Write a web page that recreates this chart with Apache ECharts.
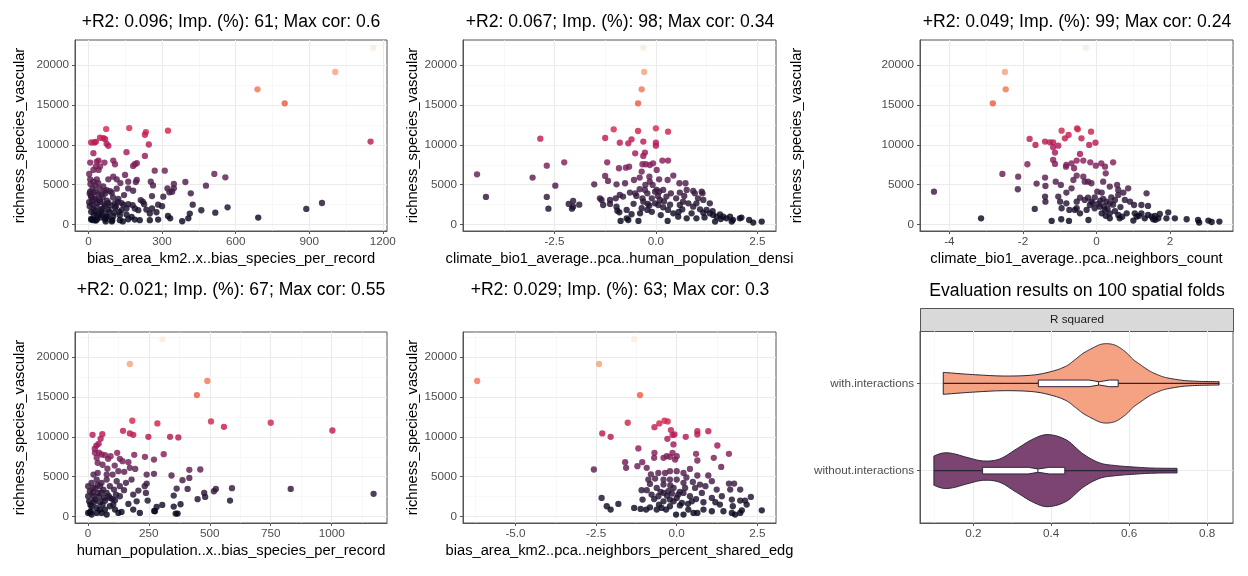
<!DOCTYPE html>
<html><head><meta charset="utf-8">
<script src="https://cdn.jsdelivr.net/npm/echarts@6/dist/echarts.min.js"></script>
<style>html,body{margin:0;padding:0;background:#fff}#c{width:1248px;height:576px}</style>
</head><body><div id="c"></div>
<script>
// ---------------- DATA ----------------
const titles = [
  '+R2: 0.096; Imp. (%): 61; Max cor: 0.6',
  '+R2: 0.067; Imp. (%): 98; Max cor: 0.34',
  '+R2: 0.049; Imp. (%): 99; Max cor: 0.24',
  '+R2: 0.021; Imp. (%): 67; Max cor: 0.55',
  '+R2: 0.029; Imp. (%): 63; Max cor: 0.3',
  'Evaluation results on 100 spatial folds'
];
const xNames = [
  'bias_area_km2..x..bias_species_per_record',
  'climate_bio1_average..pca..human_population_densi',
  'climate_bio1_average..pca..neighbors_count',
  'human_population..x..bias_species_per_record',
  'bias_area_km2..pca..neighbors_percent_shared_edg'
];
const yName = 'richness_species_vascular';
const yTicks = [0, 5000, 10000, 15000, 20000];
const yMinor = [2500, 7500, 12500, 17500, 22500];
const xTicks = [[0,300,600,900,1200],[-2.5,0,2.5],[-4,-2,0,2],[0,250,500,750,1000],[-5,-2.5,0,2.5]];
const xMinorTicks = [[150,450,750,1050],[-3.75,-1.25,1.25],[-3,-1,1,3],[125,375,625,875,1125],[-6.25,-3.75,-1.25,1.25]];

const panel1 = [[1161,22170],[1006,19120],[689,16950],[800,15200],[1150,10400],[952,2710],[888,1960],[692,880],[567,2170],[517,1500],[513,6350],[558,5930],[479,4880],[460,1800],[425,2500],[417,3920],[413,1380],[395,5340],[407,790],[382,420],[348,5090],[348,4550],[330,4050],[324,11770],[311,6760],[305,3500],[324,1090],[333,790],[284,2500],
[72,11970],[166,12100],[234,11590],[230,11260],[11,10290],[24,10290],[30,10370],[47,10880],[61,10840],[68,10710],[74,10120],[81,9870],[246,10040],[20,8950],[155,9070],[230,8610],
[7,7770],[34,7900],[41,8020],[65,7770],[101,8020],[108,7560],[189,7560],[197,7690],[182,7350],[270,6760],[3,6340],[20,6850],[30,7270],[47,7270],[41,6850],[149,6220],[101,6010],[81,5670],[115,5670],[7,5670],[34,5670],[20,5380],
[162,5380],[193,5330],[197,5590],[254,5380],[263,4910],[341,4120],[322,4540],[259,3570],[213,3070],[222,2860],[227,2560],[162,4540],[182,4240],[74,4330],[88,4200],[95,3990],[68,3910],[16,4540],[7,4120],[27,4120],[41,3820],[11,3490],[30,3150],[3,2810],[16,2520],[47,2860],[65,2560],[81,2730],[108,2650],[122,3230],[119,2860],[142,2480],[162,2560],[180,2440],[189,2020],[155,2020],[135,1810],[108,2140],[81,1890],[51,1810],[27,1720],[11,1600],[34,1180],[54,1180],[74,970],[101,1050],[128,1180],[155,1260],[176,970],[203,1810],[236,1890],[259,2020],[250,1390],[277,1550],[300,2310],[284,630],[250,550],[209,550],[189,630],[162,670],[128,550],[97,550],[68,670],[34,630],[11,710],[20,550],
[5,2300],[10,3600],[15,2900],[20,1900],[25,3300],[28,4900],[33,2200],[38,2700],[42,1400],[46,3100],[50,900],[55,2000],[58,3400],[62,1500],[67,2300],[70,400],[75,3000],[85,1600],[90,2400],[95,400],[18,4000],[22,1200],[12,600],[30,500],[40,5200],[45,4500],[52,3800],[8,5100],[5,3900],[60,4800],[65,4200],[78,1000],[105,1500],[112,2300],[125,1600],[135,2700],[140,400],[100,3400],[115,4500],[130,5200],[145,3700]];

const panel2 = [[-0.31,22170],[-0.29,19120],[-0.35,16950],[-0.44,15200],[-1.04,11940],[-1.25,10850],[-2.85,10770],[-0.44,11730],[0.0,12070],[0.30,11650],[-0.60,10690],[-0.68,10190],[-0.89,10270],[-0.31,10400],[0.0,10270],[0.0,9890],[-0.27,9020],[-0.31,8600],[-0.51,8930],[-1.2,7810],[-2.26,7810],[-2.69,7390],[-4.41,6300],[-3.04,5890],[-4.19,3470],[-2.48,4880],[-1.52,5050],[-2.69,3470],[-2.65,2000],[-2.15,2590],[-2.04,2960],[-1.89,2500],[-2.04,2250],[-2.07,2000],
[-1.25,6100],[-1.18,5470],[-0.97,5050],[-0.91,7060],[-0.74,7140],[-0.66,7260],[-0.76,5180],[-0.54,5590],[-0.40,5890],[-0.35,6640],[-0.33,7560],[-0.25,7560],[-0.15,7470],[-0.07,7680],[0.02,6850],[0.16,8020],[0.30,8020],[0.43,6140],[0.29,5590],[0.08,5680],[-0.16,6010],[-0.26,4970],[-0.08,4970],[0.18,4340],[0.58,5180],[0.73,5180],[0.96,3920],[1.13,4130],[1.15,3920],[0.92,4220],[0.76,4340],[0.59,4010],[0.37,3920],[0.26,3510],[0.10,3090],[0.02,4340],[-0.21,3920],[-0.33,3300],[-0.48,3590],[-0.64,4010],[-0.81,3510],[-0.89,3720],[-0.99,3300],[-1.13,3090],[-1.34,3090],[-1.38,3300],[-1.30,2460],[-1.13,2590],[-0.97,2250],[-0.95,1750],[-0.90,1540],[-0.72,1840],[-0.68,580],[-0.72,790],[-0.87,460],[-0.43,460],[-0.39,1420],[-0.35,2050],[-0.21,1840],[-0.16,2380],[-0.02,2670],[0.06,2460],[0.18,2170],[0.30,1840],[0.29,460],[0.43,1420],[0.56,1590],[0.59,2460],[0.67,2880],[0.80,2670],[0.92,2250],[1.0,2670],[1.09,1920],[1.17,1500],[1.25,1840],[1.33,1420],[1.41,1210],[1.50,1000],[1.58,1290],[1.66,1000],[1.74,790],[1.83,1000],[1.87,380],[2.07,790],[2.11,880],[2.30,580],[2.40,250],[2.61,380],[1.46,380],[1.0,790],[0.76,790],[0.88,1420],[0.55,1000],[-0.31,2880],[-0.27,4340],[-0.40,4430],[-0.51,3920],[-0.15,5380],[-0.02,4130],[0.08,4130],[1.17,3090],[1.33,2670],[1.04,3300],
[-0.2,2600],[-0.1,3300],[0.05,3600],[0.2,2900],[0.35,2500],[0.5,3300],[0.65,1900],[0.7,3600],[-0.55,2600],[-0.6,1300],[-0.1,1600],[0.12,1200],[1.2,900],[1.4,1700],[1.6,700],[1.9,600]];

const panel3 = [[-0.29,22170],[-2.49,19120],[-2.47,16950],[-2.82,15200],[-4.42,4130],[-3.14,790],[-1.68,1960],[-1.22,460],[-0.96,670],[-0.75,460],[-0.22,580],
[-1.82,10730],[-1.66,9980],[-1.40,10400],[-1.27,10310],[-1.18,10310],[-1.04,9890],[-0.95,11770],[-0.86,10810],[-0.76,11230],[-0.53,12070],[-0.51,11940],[-0.41,10810],[-0.15,11650],[-0.20,9980],[-0.03,10270],[-1.18,9690],[-1.13,9020],[-0.45,8850],[-0.36,8020],[-0.54,8020],[-0.17,7810],[0.13,7680],[0.45,7810],[0.23,7260],[-0.02,7390],[-1.88,7560],[-2.56,6350],[-2.13,6010],[-2.14,4430],[-1.63,5140],[-1.40,5890],[-1.39,4840],[-1.40,3510],[-1.39,2880],[-1.18,8100],[-1.13,7600],[-0.82,7470],[-0.68,7680],[-0.61,7060],[-0.83,7260],[-0.54,6140],[-0.36,6010],[-0.32,5380],[-0.23,5380],[-0.14,5180],[0.18,5380],[0.25,6430],[0.36,4760],[0.56,4970],[0.59,4340],[0.86,4550],[1.36,3920],[-0.63,5590],[-0.68,4550],[-0.82,4010],[-0.97,4970],[-1.11,5380],[-1.04,3510],[-0.99,2880],[-0.82,2670],[-0.95,2050],[-0.74,1840],[-0.54,2050],[-0.54,2880],[-0.45,3380],[-0.32,3090],[-0.23,3380],[-0.14,2880],[-0.05,3420],[0.02,4130],[0.14,4010],[0.18,3210],[0.27,2880],[0.36,2670],[0.50,3090],[0.59,3720],[0.73,4010],[0.77,3090],[0.91,2880],[1.02,2460],[1.22,2460],[1.40,2340],[0.09,2250],[0.23,1840],[0.36,1420],[0.59,1210],[0.82,1420],[1.04,1420],[1.22,1420],[1.40,1210],[1.59,1090],[1.68,790],[1.72,1340],[1.95,1540],[1.90,790],[2.13,790],[2.45,670],[2.76,580],[2.79,250],[3.04,500],[3.13,330],[3.34,380],[1.54,670],[1.31,790],[1.09,1000],[1.00,500],[0.63,790],[0.36,790],[0.14,1420],[-0.05,2050],[-0.18,2460],[-0.27,1840],[-0.45,1420],[-0.59,1840],
[0.05,2600],[0.2,2300],[0.3,2000],[0.45,2500],[0.5,1700],[0.65,2200],[0.4,3400],[0.1,3000],[-0.1,2700],[0.25,1100],[0.7,1000],[1.15,1100],[1.5,1000],[1.6,600]];

const panel4 = [[1172,2850],[832,3470],[1003,10790],[750,11760],[558,11250],[505,11920],[490,16990],[447,15230],[172,19120],[306,22220],
[144,10750],[172,10420],[186,10250],[182,12010],[285,11670],[371,9920],[337,10000],[248,10000],[19,10250],[59,10330],[52,9750],[44,9120],[29,7990],[36,7360],[40,6740],[56,7780],[70,7700],[83,7240],[93,7570],[120,7990],[131,7240],[142,6950],[166,6820],[190,7740],[234,7490],[271,7150],[311,7820],[172,6110],[194,5980],[149,5610],[125,5690],[101,5270],[77,5270],[40,5480],[23,5270],[271,5360],[343,5150],[416,5860],[461,5900],[388,4560],[416,4850],[364,3510],[352,2640],[409,3470],[477,2970],[481,2470],[517,3180],[525,3470],[591,3560],[583,2010],[450,2180],[380,1550],[352,1260],[305,1460],[282,1210],[272,710],[360,380],[368,380],[245,2010],[238,2970],[241,4140],[233,3810],[207,3260],[186,2760],[179,4640],[156,4230],[148,3310],[131,2550],[111,2050],[107,3390],[77,2970],[66,2340],[49,1800],[49,880],[36,460],[15,250],[8,540],[15,1300],[5,1920],[22,2550],[8,3180],[1,3810],[15,4230],[36,4640],[56,4230],[22,3600],[42,2970],[63,3390],[90,3810],[90,2340],[104,1510],[111,880],[125,460],[138,590],[166,1590],[200,1920],[186,880],[213,460],[275,670],[36,1090],[56,460],[77,250],[1,460],[1,2550],[29,2130],[49,3810],[77,4640],[118,4430],[131,3810],[115,2760],[90,1300],[70,880],[241,5270],
[10,1500],[20,3000],[30,3500],[45,2500],[60,1500],[12,700],[25,1800],[40,4000],[55,3000],[70,2000],[85,2600],[100,2200],[28,8500],[35,8900],[45,8000],[60,6500],[80,6000],[110,6400]];

const panel5 = [[-1.32,22220],[-2.41,19120],[-6.19,16990],[-1.14,15230],[-2.57,5900],
[-1.52,11760],[-2.31,10420],[-2.05,10000],[-0.69,11210],[-0.54,11670],[-0.38,12010],[-0.28,11920],[-0.18,10840],[-0.07,10290],[-0.13,10210],[0.28,10000],[0.64,10710],[0.64,10290],[0.98,10710],[-0.29,9750],[-0.10,9040],[1.26,8910],[-1.19,8540],[-0.69,7990],[-0.13,7990],[0.0,7570],[-0.41,7360],[-0.31,7570],[-0.21,7490],[-0.70,7360],[-0.05,7150],[0.60,7870],[1.62,7870],[1.15,7360],[0.64,7030],[-1.60,6820],[-1.57,6110],[-1.22,6320],[-0.93,6110],[-1.07,6820],[0.41,5980],[1.38,6230],[-0.36,5480],[-0.57,5480],[-0.21,5690],[0.0,5690],[0.21,5480],[0.98,5150],[0.64,5150],[-0.88,4640],[-0.83,4100],[-0.67,4770],[-0.41,4640],[-0.21,4640],[0.0,4640],[0.21,4230],[0.50,4350],[0.72,4020],[0.89,3810],[1.09,4440],[1.62,4140],[1.78,4140],[1.66,3390],[1.97,3390],[1.24,3390],[-1.09,3310],[-0.93,3310],[-0.78,2760],[-1.06,2130],[-0.57,2550],[-0.41,2970],[-0.26,3180],[-0.10,3600],[0.05,2760],[0.21,2970],[0.41,2550],[0.57,3600],[0.78,2970],[1.09,2340],[1.40,2550],[1.71,2130],[2.12,2010],[2.30,2470],[1.97,2010],[0.83,1800],[-2.33,2340],[-2.17,1300],[-2.05,880],[-1.81,1590],[-1.32,1090],[-1.12,960],[-0.95,880],[-0.83,1170],[-0.62,880],[-0.47,1090],[-0.33,880],[-0.21,1300],[-0.02,250],[0.21,250],[0.36,880],[0.52,460],[0.64,460],[0.83,880],[1.09,670],[1.45,670],[1.71,460],[1.81,250],[1.97,460],[2.02,790],[2.17,1510],[2.64,790],[1.74,1300],[1.34,1510],[-0.41,1920],[-0.21,2130],[0.0,2340],[0.16,1720],[-0.10,1920],[-0.41,4020],[-0.62,3600],[0.26,3600],[0.47,1920],
[-0.3,2600],[-0.15,2900],[0.1,3100],[-0.5,3100],[-0.7,2200],[-0.2,3900],[0.1,1400],[0.35,1600],[-0.55,1500],[0.6,2200],[1.2,1800],[-0.8,5300],[0.3,4900]];

const violinNames = ['without.interactions', 'with.interactions'];
// density profiles (x = R squared value, d = relative density)
const violinWithoutX = [0.099,0.123,0.149,0.183,0.226,0.268,0.311,0.354,0.392,0.439,0.482,0.525,0.567,0.61,0.653,0.696,0.723];
const violinWithoutD = [44,53,51,40,29,35,65,95,108,92,50,23,15,11,8,7,7];
const violinWithX = [0.123,0.19,0.277,0.354,0.405,0.439,0.46,0.482,0.505,0.525,0.542,0.56,0.576,0.595,0.61,0.63,0.653,0.675,0.696,0.738,0.781,0.831];
const violinWithD = [33,27,22,25,37,52,70,90,105,116,119,116,107,90,72,55,37,25,17,9,6,5];
// box stats: [min, q1, notchLow, median, notchHigh, q3, max]
const boxWithout = [0.099,0.224,0.341,0.367,0.395,0.435,0.723];
const boxWith = [0.123,0.367,0.497,0.523,0.55,0.572,0.831];
const violinTicks = [0.2,0.4,0.6,0.8];
const violinMinor = [0.1,0.3,0.5,0.7];

// ---------------- STYLE ----------------
const FONT = '"Liberation Sans", Arial, Helvetica, sans-serif';
const rocket = ['#03051A','#221331','#451C47','#701F57','#A11A5B','#CB1B4F','#E83F3F','#F06043','#F4875E','#F6B48E','#FAEBDD'];
const grids = [
  {left:75, top:40, width:312, height:191},
  {left:463, top:40, width:313, height:191},
  {left:920, top:40, width:313, height:191},
  {left:75, top:332, width:312, height:191},
  {left:463, top:332, width:313, height:191},
  {left:920, top:331, width:313, height:192}
];
const xRanges = [[-55,1217],[-4.756,2.962],[-4.80,3.71],[-53,1227],[-6.63,3.08]];
const yRange = [-800, 23130];
const yNameGaps = [48, 41, 116, 48, 41];
const xFmt = [v=>String(v), v=>v.toFixed(1), v=>String(v), v=>String(v), v=>v.toFixed(1)];
const panels = [panel1, panel2, panel3, panel4, panel5];
const AXIS_COLOR = '#555';

const tickLabel = {fontSize:11.7, color:'#4d4d4d', fontFamily:FONT};
const axisTitle = {fontSize:14.7, color:'#000', fontFamily:FONT};

function gridLines(xs, xsMinor, ys, ysMinor) {
  const d = [];
  xsMinor.forEach(v=>d.push({xAxis:v, lineStyle:{color:'#f3f3f3', width:0.6, type:'solid'}}));
  ysMinor.forEach(v=>d.push({yAxis:v, lineStyle:{color:'#f3f3f3', width:0.6, type:'solid'}}));
  xs.forEach(v=>d.push({xAxis:v, lineStyle:{color:'#ebebeb', width:1.1, type:'solid'}}));
  ys.forEach(v=>d.push({yAxis:v, lineStyle:{color:'#ebebeb', width:1.1, type:'solid'}}));
  return d;
}

const xAxes = [], yAxes = [], series = [], graphics = [];
for (let i = 0; i < 5; i++) {
  xAxes.push({
    gridIndex:i, type:'value', min:xRanges[i][0], max:xRanges[i][1],
    name:xNames[i], nameLocation:'middle', nameGap:20, nameTextStyle:axisTitle,
    axisLine:{show:true, onZero:false, lineStyle:{color:AXIS_COLOR, width:1}},
    axisTick:{show:true, customValues:xTicks[i], length:3, lineStyle:{color:AXIS_COLOR}},
    axisLabel:{customValues:xTicks[i], formatter:xFmt[i], margin:5, ...tickLabel},
    splitLine:{show:false}
  });
  yAxes.push({
    gridIndex:i, type:'value', min:yRange[0], max:yRange[1],
    name:yName, nameLocation:'middle', nameRotate:90, nameGap:yNameGaps[i], nameTextStyle:axisTitle,
    axisLine:{show:true, onZero:false, lineStyle:{color:AXIS_COLOR, width:1}},
    axisTick:{show:true, customValues:yTicks, length:3, lineStyle:{color:AXIS_COLOR}},
    axisLabel:{customValues:yTicks, formatter:v=>String(v), margin:6, ...tickLabel},
    splitLine:{show:false}
  });
  series.push({
    type:'line', xAxisIndex:i, yAxisIndex:i, data:[], silent:true, z:0,
    markLine:{silent:true, symbol:'none', z:0, animation:false, label:{show:false}, emphasis:{disabled:true},
      data:gridLines(xTicks[i], xMinorTicks[i], yTicks, yMinor)}
  });
  series.push({
    type:'scatter', xAxisIndex:i, yAxisIndex:i, data:panels[i], symbolSize:6.3, z:3,
    itemStyle:{opacity:0.82}, emphasis:{disabled:true}, animation:false
  });
}

// violin panel
xAxes.push({
  gridIndex:5, type:'value', min:0.0633, max:0.8667,
  axisLine:{show:true, onZero:false, lineStyle:{color:AXIS_COLOR, width:1}},
  axisTick:{show:true, customValues:violinTicks, length:3, lineStyle:{color:AXIS_COLOR}},
  axisLabel:{customValues:violinTicks, formatter:v=>v.toFixed(1), margin:5, ...tickLabel},
  splitLine:{show:false}
});
yAxes.push({
  gridIndex:5, type:'value', min:0.4, max:2.6,
  axisLine:{show:true, onZero:false, lineStyle:{color:AXIS_COLOR, width:1}},
  axisTick:{show:true, customValues:[1,2], length:3, lineStyle:{color:AXIS_COLOR}},
  axisLabel:{customValues:[1,2], formatter:v=>violinNames[Math.round(v)-1], margin:6, ...tickLabel},
  splitLine:{show:false}
});
series.push({
  type:'line', xAxisIndex:5, yAxisIndex:5, data:[], silent:true, z:0,
  markLine:{silent:true, symbol:'none', z:0, animation:false, label:{show:false}, emphasis:{disabled:true},
    data:gridLines(violinTicks, violinMinor, [1,2], [])}
});

const violins = [
  {x:violinWithoutX, d:violinWithoutD, pos:1, fill:'#7b4471', box:boxWithout},
  {x:violinWithX, d:violinWithD, pos:2, fill:'#f5a283', box:boxWith}
];
const maxD = Math.max(...violinWithD, ...violinWithoutD);
const VIOLIN_HALF = 0.455, BOX_HALF = 0.038;

// Catmull-Rom curve through pixel points (rendering only: a smooth outline through the read profile)
function catmull(pts, steps) {
  const out = [];
  const n = pts.length;
  for (let i = 0; i < n - 1; i++) {
    const p0 = pts[Math.max(0, i-1)], p1 = pts[i], p2 = pts[i+1], p3 = pts[Math.min(n-1, i+2)];
    for (let s = 0; s < steps; s++) {
      const t = s / steps, t2 = t*t, t3 = t2*t;
      const f = (a,b,c,d)=>0.5*((2*b) + (-a+c)*t + (2*a-5*b+4*c-d)*t2 + (-a+3*b-3*c+d)*t3);
      out.push([f(p0[0],p1[0],p2[0],p3[0]), f(p0[1],p1[1],p2[1],p3[1])]);
    }
  }
  out.push(pts[n-1]);
  return out;
}

series.push({
  type:'custom', xAxisIndex:5, yAxisIndex:5, z:2, silent:true, animation:false,
  data:[[0],[1]],
  renderItem:function(params, api){
    const v = violins[params.dataIndex];
    const up = [], lo = [];
    for (let k = 0; k < v.x.length; k++) {
      const hw = v.d[k] / maxD * VIOLIN_HALF;
      up.push(api.coord([v.x[k], v.pos + hw]));
      lo.push(api.coord([v.x[k], v.pos - hw]));
    }
    const upS = catmull(up, 10), loS = catmull(lo, 10).reverse();
    return {type:'polygon', shape:{points:upS.concat(loS)}, style:{fill:v.fill, stroke:'#2c2437', lineWidth:1}};
  }
});
series.push({
  type:'custom', xAxisIndex:5, yAxisIndex:5, z:4, silent:true, animation:false,
  data:[[0],[1]],
  renderItem:function(params, api){
    const v = violins[params.dataIndex];
    const b = v.box, p = v.pos;
    const c = (x,y)=>api.coord([x,y]);
    const hw = BOX_HALF, nw = BOX_HALF*0.5;
    const boxPts = [c(b[1],p+hw), c(b[2],p+hw), c(b[3],p+nw), c(b[4],p+hw), c(b[5],p+hw),
                    c(b[5],p-hw), c(b[4],p-hw), c(b[3],p-nw), c(b[2],p-hw), c(b[1],p-hw)];
    const m1 = c(b[0],p), m2 = c(b[1],p), m3 = c(b[5],p), m4 = c(b[6],p);
    return {type:'group', children:[
      {type:'line', shape:{x1:m1[0],y1:m1[1],x2:m2[0],y2:m2[1]}, style:{stroke:'#2c2437', lineWidth:1.2}},
      {type:'line', shape:{x1:m3[0],y1:m3[1],x2:m4[0],y2:m4[1]}, style:{stroke:'#2c2437', lineWidth:1.2}},
      {type:'polygon', shape:{points:boxPts}, style:{fill:'#ffffff', stroke:'#2c2437', lineWidth:1}},
      {type:'line', shape:{x1:c(b[3],p)[0]-0.5,y1:c(b[3],p+nw)[1],x2:c(b[3],p)[0]-0.5,y2:c(b[3],p-nw)[1]}, style:{stroke:'#2c2437', lineWidth:1}}
    ]};
  }
});

// titles
const titlePos = [[231,22],[620,22],[1077,22],[231,290],[620,290],[1077,291]];
titles.forEach((t,i)=>graphics.push({type:'text', x:titlePos[i][0], y:titlePos[i][1], silent:true,
  style:{text:t, fill:'#000', font:'17.6px ' + FONT, textAlign:'center', textVerticalAlign:'middle'}}));
// strip
graphics.push({type:'rect', shape:{x:920.5, y:308.5, width:313, height:23}, silent:true, style:{fill:'#d9d9d9', stroke:AXIS_COLOR, lineWidth:1}});
graphics.push({type:'text', x:1077, y:320, silent:true, style:{text:'R squared', fill:'#1a1a1a', font:'11.7px ' + FONT, textAlign:'center', textVerticalAlign:'middle'}});

const chart = echarts.init(document.getElementById('c'), null, {renderer:'canvas'});
chart.setOption({
  animation:false,
  backgroundColor:'#fff',
  grid:grids.map(g=>({...g, show:true, borderColor:AXIS_COLOR, borderWidth:1, backgroundColor:'transparent', containLabel:false})),
  xAxis:xAxes, yAxis:yAxes,
  visualMap:{type:'continuous', show:false, seriesIndex:[1,3,5,7,9], dimension:1, min:250, max:22220, inRange:{color:rocket}},
  series:series,
  graphic:graphics
});
</script></body></html>
